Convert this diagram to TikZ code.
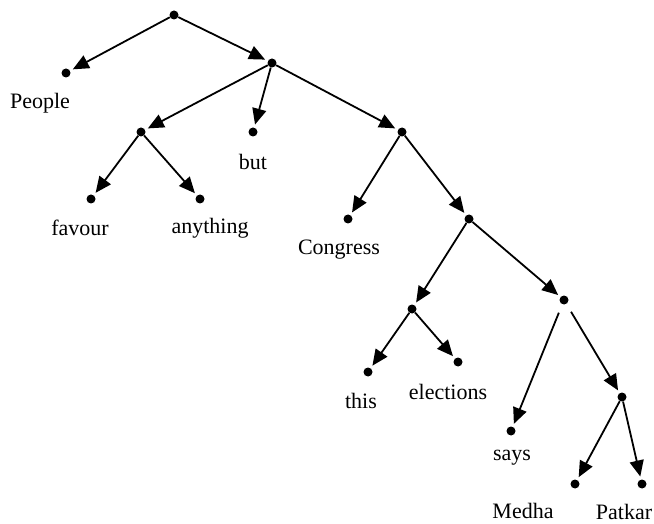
\documentclass[tikz,border=0pt]{standalone}
\usepackage{fontspec}
\setmainfont{Liberation Serif}
\usetikzlibrary{arrows.meta}
\begin{document}
\begin{tikzpicture}[x=1pt,y=-1pt,
 dot/.style={circle,fill=black,inner sep=0pt,minimum size=9pt},
 edge/.style={line width=1.8pt,-{Triangle[length=16pt,width=14pt]},shorten >=3pt},
 lbl/.style={font=\fontsize{22}{26}\selectfont,inner sep=0pt}]
\useasboundingbox (0,0) rectangle (654,524);
\node[dot] (r) at (174,15) {};
\node[dot] (people) at (66,73) {};
\node[dot] (n1) at (272,63) {};
\node[dot] (n2) at (141,132) {};
\node[dot] (but) at (253,132) {};
\node[dot] (n3) at (402,132) {};
\node[dot] (favour) at (91,199) {};
\node[dot] (anything) at (200,199) {};
\node[dot] (congress) at (348,219) {};
\node[dot] (n4) at (469,219) {};
\node[dot] (n5) at (412,309) {};
\node[dot] (n6) at (564,300) {};
\node[dot] (this) at (368,372) {};
\node[dot] (elections) at (458,362) {};
\node[dot] (says) at (511,431) {};
\node[dot] (n7) at (622,397) {};
\node[dot] (medha) at (575,484) {};
\node[dot] (patkar) at (642,484) {};

\node[lbl] (lpeople) at (40,103) {People};
\node[lbl] (lbut) at (253,162) {but};
\node[lbl] (lfavour) at (80,228) {favour};
\node[lbl] (lanything) at (210,228) {anything};
\node[lbl] (lcongress) at (339,250) {Congress};
\node[lbl] (lthis) at (361,401) {this};
\node[lbl] (lelections) at (448,392) {elections};
\node[lbl] (lsays) at (512,458) {says};
\node[lbl] (lmedha) at (523,511) {Medha};
\node[lbl] (lpatkar) at (624,512) {Patkar};

\draw[edge] (r) -- (people);
\draw[edge] (r) -- (n1);
\draw[edge] (n1) -- (n2);
\draw[edge] (n1) -- (but);
\draw[edge] (n1) -- (n3);
\draw[edge] (n2) -- (favour);
\draw[edge] (n2) -- (anything);
\draw[edge] (n3) -- (congress);
\draw[edge] (n3) -- (n4);
\draw[edge] (n4) -- (n5);
\draw[edge] (n4) -- (n6);
\draw[edge] (n5) -- (this);
\draw[edge] (n5) -- (elections);
\draw[edge,shorten <=9pt] (n6) -- (says);
\draw[edge,shorten <=9pt] (n6) -- (n7);
\draw[edge] (n7) -- (medha);
\draw[edge] (n7) -- (patkar);
\end{tikzpicture}
\end{document}
